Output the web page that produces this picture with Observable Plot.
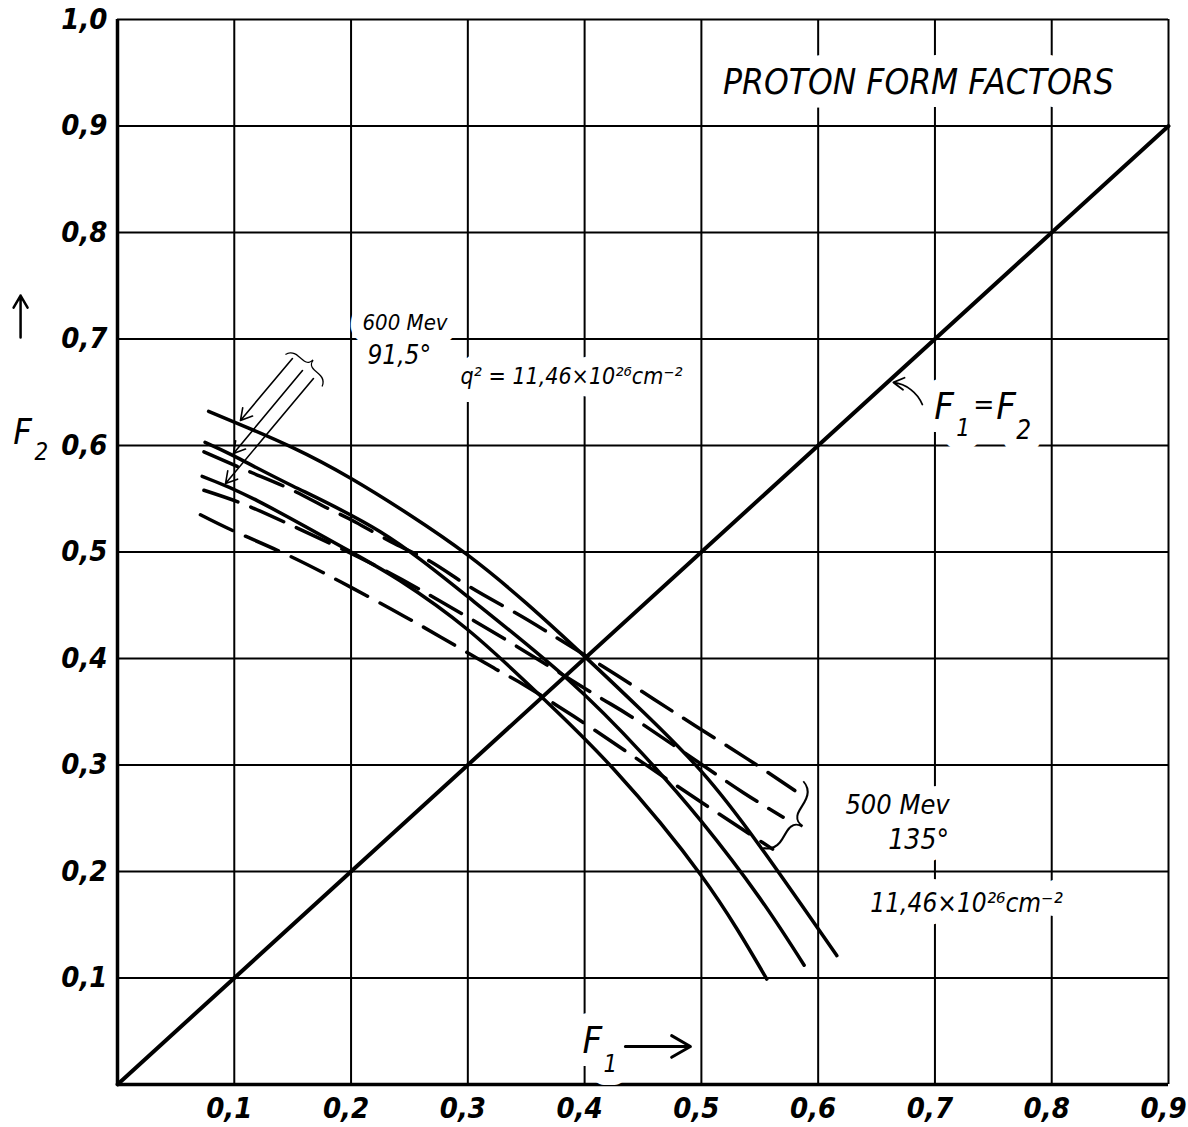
<!DOCTYPE html>
<html><head><meta charset="utf-8">
<script src="https://cdn.jsdelivr.net/npm/d3@7"></script>
<script src="https://cdn.jsdelivr.net/npm/@observablehq/plot@0.6"></script>
<style>body{margin:0;background:#fff;overflow:hidden}</style>
</head><body><div id="chart"></div>
<script>
// ---- axis ticks ----
const xTicks = [0.1,0.2,0.3,0.4,0.5,0.6,0.7,0.8,0.9];
const yTicks = [0.1,0.2,0.3,0.4,0.5,0.6,0.7,0.8,0.9,1.0];

// ---- 600 MeV, 91.5 deg (solid) : [F1, F2] ----
const solid600Upper = [[0.078,0.632],[0.1,0.622],[0.15,0.598],[0.2,0.569],[0.25,0.535],[0.3,0.497],[0.35,0.452],[0.4,0.402],[0.45,0.350],[0.5,0.294],[0.55,0.224],[0.616,0.121]];
const solid600Middle = [[0.075,0.603],[0.1,0.590],[0.15,0.562],[0.225,0.519],[0.3,0.458],[0.385,0.381],[0.45,0.310],[0.5,0.247],[0.55,0.175],[0.588,0.112]];
const solid600Lower = [[0.0725,0.571],[0.12,0.548],[0.2,0.500],[0.242,0.473],[0.3,0.427],[0.365,0.362],[0.425,0.296],[0.5,0.196],[0.556,0.099]];

// ---- 500 MeV, 135 deg (dashed) ----
const dashed500Upper = [[0.074,0.594],[0.114,0.575],[0.148,0.559],[0.18,0.541],[0.204,0.528],[0.237,0.508],[0.268,0.491],[0.302,0.467],[0.339,0.444],[0.368,0.425],[0.396,0.406],[0.428,0.384],[0.459,0.362],[0.496,0.336],[0.539,0.306],[0.580,0.276]];
const dashed500Middle = [[0.074,0.558],[0.108,0.545],[0.145,0.527],[0.188,0.505],[0.23,0.482],[0.265,0.461],[0.295,0.442],[0.341,0.412],[0.409,0.366],[0.439,0.346],[0.493,0.306],[0.536,0.274],[0.570,0.251]];
const dashed500Lower = [[0.071,0.535],[0.101,0.519],[0.146,0.497],[0.191,0.472],[0.235,0.446],[0.277,0.420],[0.324,0.390],[0.35,0.374],[0.4,0.339],[0.45,0.302],[0.5,0.265],[0.561,0.221]];

// ---- F1 = F2 diagonal ----
const diagonalF = [0, 0.9];

// ---- annotations (data units) ----
const labels = [
  {f1:0.6858, f2:0.9404, text:"PROTON FORM FACTORS", size:35, anchor:"middle"},
  {f1:0.2098, f2:0.7146, text:"600 Mev", size:22, anchor:"start"},
  {f1:0.2140, f2:0.6845, text:"91,5°", size:26, anchor:"start"},
  {f1:0.2937, f2:0.6648, text:"q² = 11,46×10²⁶cm⁻²", size:23, anchor:"start"},
  {f1:0.6995, f2:0.6366, text:"F", size:38, anchor:"start"},
  {f1:0.7183, f2:0.6160, text:"1", size:24, anchor:"start"},
  {f1:0.7329, f2:0.6376, text:"=", size:28, anchor:"start"},
  {f1:0.7526, f2:0.6366, text:"F", size:38, anchor:"start"},
  {f1:0.7697, f2:0.6141, text:"2", size:26, anchor:"start"},
  {f1:0.6233, f2:0.2620, text:"500 Mev", size:27, anchor:"start"},
  {f1:0.6601, f2:0.2291, text:"135°", size:28, anchor:"start"},
  {f1:0.6447, f2:0.1700, text:"11,46×10²⁶cm⁻²", size:26, anchor:"start"},
  {f1:-0.0813, f2:0.6122, text:"F", size:36, anchor:"middle"},
  {f1:-0.0651, f2:0.5934, text:"2", size:24, anchor:"middle"},
  {f1:0.4067, f2:0.0413, text:"F", size:38, anchor:"middle"},
  {f1:0.4221, f2:0.0188, text:"1", size:24, anchor:"middle"}
];
const arrows = [
  {x1:-0.083, y1:0.7014, x2:-0.083, y2:0.7408, bend:0, w:2.5},
  {x1:0.4349, y1:0.0357, x2:0.4906, y2:0.0357, bend:0, w:3},
  {x1:0.6892, y1:0.6385, x2:0.6644, y2:0.6592, bend:-30, w:1.8},
  {x1:0.1498, y1:0.6817, x2:0.1053, y2:0.6235, bend:0, w:1.6},
  {x1:0.1584, y1:0.6704, x2:0.0993, y2:0.5925, bend:0, w:1.6},
  {x1:0.1678, y1:0.6629, x2:0.0925, y2:0.5643, bend:0, w:1.6}
];
const braces = [
  {f1:0.1627, f2:0.6770, rot:-49, size:50},
  {f1:0.5805, f2:0.2498, rot:31, size:80}
];

const FONT = '"Liberation Sans Narrow", "DejaVu Sans Condensed", "DejaVu Sans", sans-serif';
const fmt = d => d.toFixed(1).replace(".", ",");
const toRows = (name, pts) => pts.map(([f1, f2]) => ({curve: name, f1, f2}));
const solidRows = [
  ...toRows("s1", solid600Upper), ...toRows("s2", solid600Middle), ...toRows("s3", solid600Lower)
];
const dashedRows = [
  ...toRows("d1", dashed500Upper), ...toRows("d2", dashed500Middle), ...toRows("d3", dashed500Lower)
];

const marks = [
  Plot.ruleX(xTicks, {stroke:"#000", strokeWidth:2}),
  Plot.ruleY(yTicks, {stroke:"#000", strokeWidth:2}),
  Plot.ruleX([0], {stroke:"#000", strokeWidth:3.5}),
  Plot.ruleY([0], {stroke:"#000", strokeWidth:3.5}),
  Plot.axisX(xTicks, {tickFormat: fmt, tickSize: 0, tickPadding: 13, dx: -5, label: null, fontSize: 29, fontWeight: "bold"}),
  Plot.axisY(yTicks, {tickFormat: fmt, tickSize: 0, tickPadding: 10, label: null, fontSize: 29, fontWeight: "bold"})
];
// white halos first (erase grid behind annotations), then the text on top
for (const l of labels) {
  marks.push(Plot.text([l], {x:"f1", y:"f2", text:"text", fontSize:l.size, textAnchor:l.anchor,
    fill:"white", stroke:"white", strokeWidth:26, strokeLinejoin:"round"}));
}
for (const l of labels) {
  marks.push(Plot.text([l], {x:"f1", y:"f2", text:"text", fontSize:l.size, textAnchor:l.anchor, fill:"#000"}));
}
marks.push(
  Plot.line(diagonalF, {x: d => d, y: d => d, stroke:"#000", strokeWidth:4}),
  Plot.line(solidRows, {x:"f1", y:"f2", z:"curve", curve:"natural", stroke:"#000", strokeWidth:3.5}),
  Plot.line(dashedRows, {x:"f1", y:"f2", z:"curve", curve:"natural", stroke:"#000", strokeWidth:3.5, strokeDasharray:"36,14"})
);
for (const a of arrows) {
  marks.push(Plot.arrow([a], {x1:"x1", y1:"y1", x2:"x2", y2:"y2", bend:a.bend, stroke:"#000", strokeWidth:a.w, headLength:12}));
}
for (const b of braces) {
  marks.push(Plot.text([b], {x:"f1", y:"f2", text: () => "}", rotate:b.rot, fontSize:b.size, fontFamily:"Roboto", fontWeight:100, fontStyle:"normal", fill:"#000"}));
}

const chart = Plot.plot({
  width: 1188, height: 1127,
  marginLeft: 117, marginRight: 20, marginTop: 19, marginBottom: 43,
  x: {domain: [0, 0.9]},
  y: {domain: [0, 1.0]},
  style: {fontFamily: FONT, fontStyle: "italic", background: "white", color: "#000"},
  marks
});
document.getElementById("chart").appendChild(chart);
</script>
</body></html>
